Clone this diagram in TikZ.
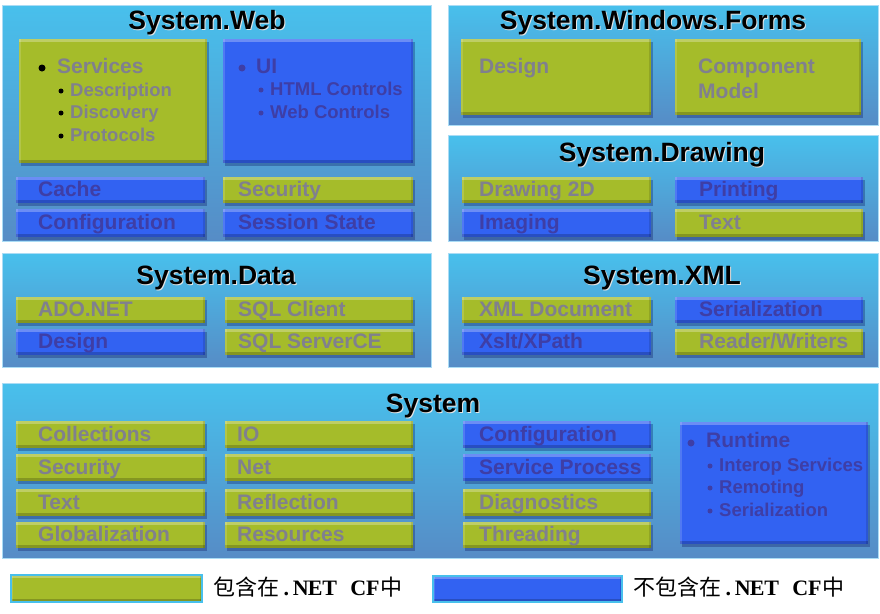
\documentclass[tikz,border=0pt]{standalone}
\usepackage{fontspec}
\setmainfont{Liberation Sans}
\newfontfamily\cjk{Noto Sans CJK SC}
\newfontfamily\serifl{Liberation Serif}
\usetikzlibrary{shadows,fit}

\definecolor{grn}{RGB}{165,188,42}
\definecolor{blu}{RGB}{50,98,242}
\definecolor{gtxt}{RGB}{128,128,142}
\definecolor{btxt}{RGB}{62,62,166}
\definecolor{ptop}{RGB}{72,192,236}
\definecolor{pbot}{RGB}{86,140,198}
\definecolor{pedge}{RGB}{170,220,245}

\tikzset{
 panel/.style={draw=pedge, line width=0.8pt, top color=ptop, bottom color=pbot, inner sep=0pt},
 bevel/.style={path picture={
   \fill[white,opacity=0.28] (path picture bounding box.north west) rectangle ([yshift=-2.5pt]path picture bounding box.north east);
   \fill[black,opacity=0.2] (path picture bounding box.south west) rectangle ([yshift=3pt]path picture bounding box.south east);
   \fill[white,opacity=0.15] (path picture bounding box.north west) rectangle ([xshift=2pt]path picture bounding box.south west);
   \fill[black,opacity=0.12] (path picture bounding box.north east) rectangle ([xshift=-2pt]path picture bounding box.south east);
 }},
 bx/.style={inner sep=0pt, bevel, drop shadow={shadow xshift=2pt, shadow yshift=-3pt, opacity=0.28, fill=black!70!blue}},
 gbox/.style={bx, fill=grn},
 bbox/.style={bx, fill=blu},
 title/.style={font=\bfseries\fontsize{26.5}{30}\selectfont, anchor=base, text=black, inner sep=0pt},
 titlesh/.style={title, text=white!80!gray},
 gt/.style={font=\bfseries\fontsize{21}{24}\selectfont, text=gtxt, anchor=base west, inner sep=0pt},
 bt/.style={gt, text=btxt},
 gs/.style={gt, font=\bfseries\fontsize{18.5}{21}\selectfont},
 bs/.style={gs, text=btxt},
 legbox/.style={inner sep=0pt, draw=ptop, line width=2pt, bevel},
 legtext/.style={font=\cjk\fontsize{22}{26}\selectfont, anchor=base west, inner sep=0pt, text=black},
}

\newcommand\ib[8]{%
 \node[#2box, fit={(#3,#4) (#5,#6)}] (#1) {};
 \node[#2t] (#1-t) at ({#7},{(#4+#6)/2+6.5}) {#8};}
\newcommand\ttl[4]{%
 \node[titlesh] (#1-sh) at ({#2+1},{#3+1}) {#4};
 \node[title] (#1) at (#2,#3) {#4};}
\newcommand\mc[1]{\makebox[14.4pt][c]{\serifl\bfseries #1}}

\begin{document}
\begin{tikzpicture}[x=1pt,y=-1pt]
\useasboundingbox[fill=white] (0,0) rectangle (880,613);

% ---------------- System.Web
\node[panel, fit={(2,5) (431,241)}] (web) {};
\ttl{webtitle}{207}{29.5}{System.Web}
\node[gbox, fit={(19,39) (207,163)}] (services) {};
\fill[black] (42,68) circle (3.5pt);
\node[gt] (svc-t) at (57,73) {Services};
\fill[black] (61,91) circle (2.5pt);
\node[gs] (svc-d) at (70,96) {Description};
\fill[black] (61,113) circle (2.5pt);
\node[gs] (svc-dc) at (70,118) {Discovery};
\fill[black] (61,136) circle (2.5pt);
\node[gs] (svc-p) at (70,141) {Protocols};
\node[bbox, fit={(223,39) (413,163)}] (ui) {};
\fill[btxt] (242,68) circle (3.5pt);
\node[bt] (ui-t) at (256,73) {UI};
\fill[btxt] (261,90) circle (2.5pt);
\node[bs] (ui-h) at (270,95) {HTML Controls};
\fill[btxt] (261,113) circle (2.5pt);
\node[bs] (ui-w) at (270,118) {Web Controls};
\ib{cache}{b}{16}{177}{205}{203}{38}{Cache}
\ib{wconf}{b}{16}{209}{205}{237}{38}{Configuration}
\ib{wsec}{g}{223}{177}{413}{203}{238}{Security}
\ib{wsess}{b}{223}{209}{413}{237}{238}{Session State}

% ---------------- System.Windows.Forms
\node[panel, fit={(448,5) (878,125)}] (forms) {};
\ttl{formstitle}{653}{29.5}{System.Windows.Forms}
\node[gbox, fit={(461,39) (651,115)}] (fdesign) {};
\node[gt] (fdesign-t) at (479,73) {Design};
\node[gbox, fit={(675,39) (861,115)}] (fcomp) {};
\node[gt] (fcomp-t1) at (698,73) {Component};
\node[gt] (fcomp-t2) at (698,98) {Model};

% ---------------- System.Drawing
\node[panel, fit={(448,135) (878,241)}] (drawing) {};
\ttl{drawtitle}{662}{161}{System.Drawing}
\ib{d2d}{g}{462}{177}{651}{203}{479}{Drawing 2D}
\ib{dimg}{b}{462}{209}{651}{237}{479}{Imaging}
\ib{dprint}{b}{675}{177}{863}{203}{699}{Printing}
\ib{dtext}{g}{675}{209}{863}{237}{699}{Text}

% ---------------- System.Data
\node[panel, fit={(2,253) (431,367)}] (data) {};
\ttl{datatitle}{216}{284}{System.Data}
\ib{ado}{g}{16}{297}{205}{323}{38}{ADO.NET}
\ib{ddes}{b}{16}{329}{205}{355}{38}{Design}
\ib{sqlc}{g}{225}{297}{413}{323}{238}{SQL Client}
\ib{sqlce}{g}{225}{329}{413}{355}{238}{SQL ServerCE}

% ---------------- System.XML
\node[panel, fit={(448,253) (878,367)}] (xml) {};
\ttl{xmltitle}{662}{284}{System.XML}
\ib{xdoc}{g}{462}{297}{651}{323}{479}{XML Document}
\ib{xslt}{b}{462}{329}{651}{355}{479}{Xslt/XPath}
\ib{xser}{b}{675}{297}{863}{323}{699}{Serialization}
\ib{xrw}{g}{675}{329}{863}{355}{699}{Reader/Writers}

% ---------------- System
\node[panel, fit={(2,383) (878,558)}] (sys) {};
\ttl{systitle}{433}{412}{System}
\ib{coll}{g}{16}{421}{205}{448}{38}{Collections}
\ib{ssec}{g}{16}{454}{205}{481}{38}{Security}
\ib{stext}{g}{16}{489}{205}{516}{38}{Text}
\ib{glob}{g}{16}{522}{205}{548}{38}{Globalization}
\ib{io}{g}{225}{421}{413}{448}{237}{IO}
\ib{net}{g}{225}{454}{413}{481}{237}{Net}
\ib{refl}{g}{225}{489}{413}{516}{237}{Reflection}
\ib{res}{g}{225}{522}{413}{548}{237}{Resources}
\ib{sconf}{b}{463}{421}{651}{448}{479}{Configuration}
\ib{sproc}{b}{463}{454}{651}{481}{479}{Service Process}
\ib{diag}{g}{463}{489}{651}{516}{479}{Diagnostics}
\ib{thr}{g}{463}{522}{651}{548}{479}{Threading}
\node[bbox, fit={(680,422) (868,544)}] (runtime) {};
\fill[btxt] (691,443) circle (3.5pt);
\node[bt] (rt-t) at (706,447) {Runtime};
\fill[btxt] (710,466) circle (2.5pt);
\node[bs] (rt-i) at (719,471) {Interop Services};
\fill[btxt] (710,488) circle (2.5pt);
\node[bs] (rt-r) at (719,493) {Remoting};
\fill[btxt] (710,511) circle (2.5pt);
\node[bs] (rt-s) at (719,516) {Serialization};

% ---------------- Legend
\node[legbox, fill=grn, fit={(11,575) (202,602)}] (leg-g) {};
\node[legtext] (leg-g-t) at (213,595) {包含在\mc{.}\mc{N}\mc{E}\mc{T}\mc{ }\mc{C}\mc{F}中};
\node[legbox, fill=blu, fit={(433,576) (622,602)}] (leg-b) {};
\node[legtext] (leg-b-t) at (633,595) {不包含在\mc{.}\mc{N}\mc{E}\mc{T}\mc{ }\mc{C}\mc{F}中};
\end{tikzpicture}
\end{document}
